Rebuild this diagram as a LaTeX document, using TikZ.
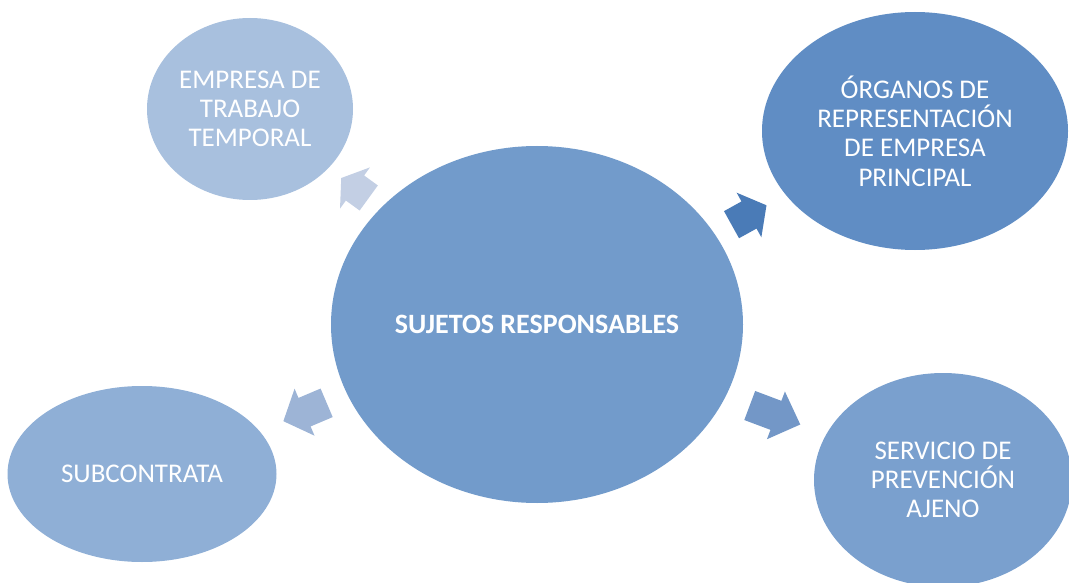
\documentclass[tikz,border=0pt]{standalone}
\usepackage{fontspec}
\setmainfont{Carlito}
\usetikzlibrary{shapes.geometric}
\definecolor{cCenter}{RGB}{114,155,203}
\definecolor{cETT}{RGB}{168,192,222}
\definecolor{cORG}{RGB}{96,141,196}
\definecolor{cSUB}{RGB}{143,175,214}
\definecolor{cSPA}{RGB}{122,160,206}
\definecolor{aETT}{RGB}{195,207,228}
\definecolor{aORG}{RGB}{74,123,183}
\definecolor{aSUB}{RGB}{157,180,214}
\definecolor{aSPA}{RGB}{115,151,199}
\tikzset{
  bubble/.style={ellipse, draw=none, inner sep=0pt, text=white, align=center,
    font=\fontsize{27}{29.3}\selectfont},
  pics/blockarrow/.style n args={3}{code={
    \fill[#3] (-#1/2,-15.5) -- (#1/2-#2,-15.5) -- (#1/2-#2,-25.5) -- (#1/2,0)
      -- (#1/2-#2,25.5) -- (#1/2-#2,15.5) -- (-#1/2,15.5) -- cycle;
  }}
}
\begin{document}
\begin{tikzpicture}[x=1pt,y=-1pt]
\useasboundingbox (0,0) rectangle (1069,583);
\node[bubble, fill=cCenter, minimum width=412pt, minimum height=357pt, font=\fontsize{28}{30}\selectfont\bfseries] (center) at (537,324.5) {SUJETOS RESPONSABLES};
\node[bubble, fill=cETT, minimum width=206pt, minimum height=182pt] (ett) at (250,109) {EMPRESA DE\\TRABAJO\\TEMPORAL};
\node[bubble, fill=cORG, minimum width=306pt, minimum height=238pt] (org) at (915,131) {ÓRGANOS DE\\REPRESENTACIÓN\\DE EMPRESA\\PRINCIPAL};
\node[bubble, fill=cSUB, minimum width=269pt, minimum height=176pt] (sub) at (142,474) {SUBCONTRATA};
\node[bubble, fill=cSPA, minimum width=258pt, minimum height=214pt] (spa) at (943,480) {SERVICIO DE\\PREVENCIÓN\\AJENO};
\pic[rotate=144] (a1) at (355,188) {blockarrow={34}{17}{aETT}};
\pic[rotate=29] (a2) at (749,215) {blockarrow={40}{20}{aORG}};
\pic[rotate=203] (a3) at (305,412) {blockarrow={47}{23}{aSUB}};
\pic[rotate=-20.6] (a4) at (775,415) {blockarrow={54}{26}{aSPA}};
\end{tikzpicture}
\end{document}
